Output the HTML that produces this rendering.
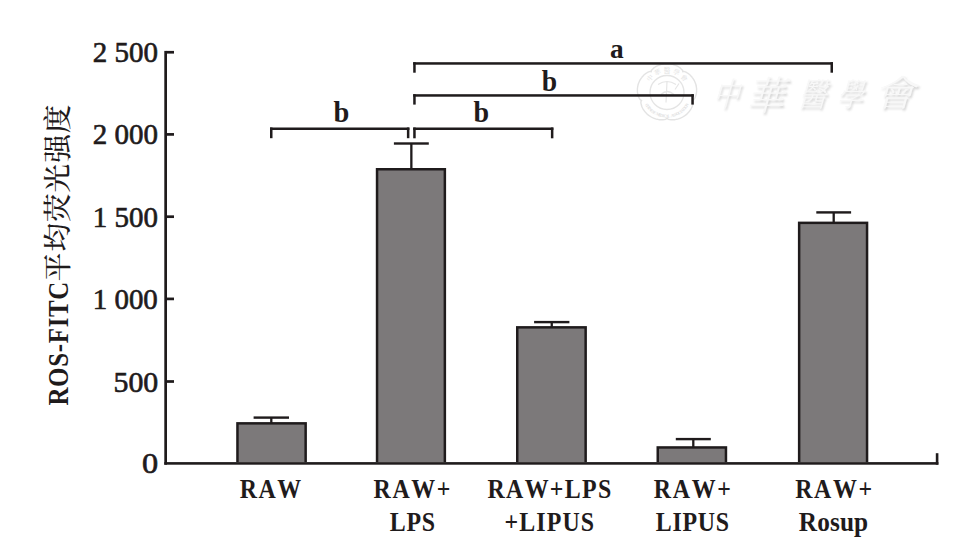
<!DOCTYPE html>
<html><head><meta charset="utf-8"><style>
html,body{margin:0;padding:0;background:#fff;}
svg{display:block;}
.wm text{fill:#f8f8f8;}
text{font-family:"Liberation Serif","Noto Serif CJK SC",serif;fill:#1f1b1c;font-kerning:none;}
</style></head><body>
<svg width="978" height="552" viewBox="0 0 978 552">
<rect width="978" height="552" fill="#fff"/>


<g>
 <path d="M667.0,63.7 L667.8,63.7 L668.6,63.8 L669.4,63.8 L670.1,63.9 L670.9,64.0 L671.7,64.2 L672.4,64.3 L673.2,64.5 L673.9,64.8 L674.7,65.0 L675.4,65.3 L676.1,65.6 L676.8,65.9 L677.5,66.2 L678.2,66.6 L678.8,67.0 L679.5,67.4 L680.1,67.9 L680.7,68.4 L681.2,68.9 L681.7,69.4 L682.2,70.0 L682.6,70.6 L682.8,71.7 L683.8,71.5 L684.6,71.6 L685.3,71.9 L686.0,72.2 L686.7,72.6 L687.4,73.0 L688.0,73.4 L688.6,73.8 L689.2,74.3 L689.8,74.8 L690.3,75.3 L690.9,75.9 L691.4,76.4 L691.9,77.0 L692.3,77.6 L692.8,78.2 L693.2,78.8 L693.6,79.5 L694.0,80.1 L694.4,80.8 L694.7,81.5 L695.0,82.2 L695.3,82.9 L695.5,83.6 L695.8,84.3 L696.0,85.0 L696.1,85.8 L696.3,86.5 L696.4,87.3 L696.5,88.0 L696.6,88.8 L696.6,89.5 L696.6,90.3 L696.6,91.0 L696.6,91.8 L696.5,92.5 L696.4,93.2 L696.3,94.0 L696.1,94.7 L695.9,95.4 L695.7,96.1 L695.4,96.8 L695.1,97.5 L694.8,98.2 L694.4,98.8 L694.0,99.4 L693.5,100.0 L692.5,100.5 L693.0,101.4 L693.1,102.1 L693.1,102.9 L693.0,103.6 L692.8,104.3 L692.6,105.0 L692.4,105.8 L692.2,106.5 L691.9,107.1 L691.6,107.8 L691.2,108.5 L690.9,109.1 L690.5,109.8 L690.0,110.4 L689.6,111.0 L689.1,111.6 L688.6,112.2 L688.1,112.8 L687.6,113.3 L687.0,113.9 L686.5,114.4 L685.9,114.9 L685.3,115.3 L684.6,115.8 L684.0,116.2 L683.3,116.6 L682.7,117.0 L682.0,117.4 L681.3,117.7 L680.6,118.1 L679.8,118.3 L679.1,118.6 L678.4,118.9 L677.6,119.1 L676.9,119.3 L676.1,119.4 L675.3,119.6 L674.6,119.7 L673.8,119.7 L673.0,119.8 L672.3,119.8 L671.5,119.8 L670.7,119.7 L670.0,119.6 L669.2,119.5 L668.5,119.3 L667.7,119.0 L667.0,118.2 L666.3,119.0 L665.5,119.3 L664.8,119.5 L664.0,119.6 L663.3,119.7 L662.5,119.8 L661.7,119.8 L661.0,119.8 L660.2,119.7 L659.4,119.7 L658.7,119.6 L657.9,119.4 L657.1,119.3 L656.4,119.1 L655.6,118.9 L654.9,118.6 L654.2,118.3 L653.4,118.1 L652.7,117.7 L652.0,117.4 L651.3,117.0 L650.7,116.6 L650.0,116.2 L649.4,115.8 L648.7,115.3 L648.1,114.9 L647.5,114.4 L647.0,113.9 L646.4,113.3 L645.9,112.8 L645.4,112.2 L644.9,111.6 L644.4,111.0 L644.0,110.4 L643.5,109.8 L643.1,109.1 L642.8,108.5 L642.4,107.8 L642.1,107.1 L641.8,106.5 L641.6,105.8 L641.4,105.0 L641.2,104.3 L641.0,103.6 L640.9,102.9 L640.9,102.1 L641.0,101.4 L641.5,100.5 L640.5,100.0 L640.0,99.4 L639.6,98.8 L639.2,98.2 L638.9,97.5 L638.6,96.8 L638.3,96.1 L638.1,95.4 L637.9,94.7 L637.7,94.0 L637.6,93.2 L637.5,92.5 L637.4,91.8 L637.4,91.0 L637.4,90.3 L637.4,89.5 L637.4,88.8 L637.5,88.0 L637.6,87.3 L637.7,86.5 L637.9,85.8 L638.0,85.0 L638.2,84.3 L638.5,83.6 L638.7,82.9 L639.0,82.2 L639.3,81.5 L639.6,80.8 L640.0,80.1 L640.4,79.5 L640.8,78.8 L641.2,78.2 L641.7,77.6 L642.1,77.0 L642.6,76.4 L643.1,75.9 L643.7,75.3 L644.2,74.8 L644.8,74.3 L645.4,73.8 L646.0,73.4 L646.6,73.0 L647.3,72.6 L648.0,72.2 L648.7,71.9 L649.4,71.6 L650.2,71.5 L651.2,71.7 L651.4,70.6 L651.8,70.0 L652.3,69.4 L652.8,68.9 L653.3,68.4 L653.9,67.9 L654.5,67.4 L655.2,67.0 L655.8,66.6 L656.5,66.2 L657.2,65.9 L657.9,65.6 L658.6,65.3 L659.3,65.0 L660.1,64.8 L660.8,64.5 L661.6,64.3 L662.3,64.2 L663.1,64.0 L663.9,63.9 L664.6,63.8 L665.4,63.8 L666.2,63.7 L667.0,63.7Z" fill="none" style="stroke:#e3e3e3;stroke-width:1.4"/>
 <circle cx="667.0" cy="92.5" r="17" fill="none" style="stroke:#e4e4e4;stroke-width:1.3"/>
 <text transform="translate(649.8,78.0) rotate(-50)" text-anchor="middle" dy="2.5" font-size="6.5" font-family="'Noto Sans CJK TC', sans-serif" style="fill:#e0e0e0">中</text><text transform="translate(657.5,72.1) rotate(-25)" text-anchor="middle" dy="2.5" font-size="6.5" font-family="'Noto Sans CJK TC', sans-serif" style="fill:#e0e0e0">華</text><text transform="translate(667.0,70.0) rotate(0)" text-anchor="middle" dy="2.5" font-size="6.5" font-family="'Noto Sans CJK TC', sans-serif" style="fill:#e0e0e0">醫</text><text transform="translate(676.5,72.1) rotate(25)" text-anchor="middle" dy="2.5" font-size="6.5" font-family="'Noto Sans CJK TC', sans-serif" style="fill:#e0e0e0">學</text><text transform="translate(684.2,78.0) rotate(50)" text-anchor="middle" dy="2.5" font-size="6.5" font-family="'Noto Sans CJK TC', sans-serif" style="fill:#e0e0e0">會</text><text transform="translate(647.1,105.0) rotate(58.0)" text-anchor="middle" dy="1.5" font-size="4.3" font-weight="bold" font-family="'Liberation Sans', sans-serif" style="fill:#e2e2e2">C</text><text transform="translate(648.1,106.5) rotate(53.5)" text-anchor="middle" dy="1.5" font-size="4.3" font-weight="bold" font-family="'Liberation Sans', sans-serif" style="fill:#e2e2e2">H</text><text transform="translate(649.2,107.9) rotate(49.1)" text-anchor="middle" dy="1.5" font-size="4.3" font-weight="bold" font-family="'Liberation Sans', sans-serif" style="fill:#e2e2e2">I</text><text transform="translate(650.5,109.2) rotate(44.6)" text-anchor="middle" dy="1.5" font-size="4.3" font-weight="bold" font-family="'Liberation Sans', sans-serif" style="fill:#e2e2e2">N</text><text transform="translate(651.8,110.5) rotate(40.2)" text-anchor="middle" dy="1.5" font-size="4.3" font-weight="bold" font-family="'Liberation Sans', sans-serif" style="fill:#e2e2e2">E</text><text transform="translate(653.3,111.6) rotate(35.7)" text-anchor="middle" dy="1.5" font-size="4.3" font-weight="bold" font-family="'Liberation Sans', sans-serif" style="fill:#e2e2e2">S</text><text transform="translate(654.8,112.6) rotate(31.2)" text-anchor="middle" dy="1.5" font-size="4.3" font-weight="bold" font-family="'Liberation Sans', sans-serif" style="fill:#e2e2e2">E</text><text transform="translate(658.1,114.2) rotate(22.3)" text-anchor="middle" dy="1.5" font-size="4.3" font-weight="bold" font-family="'Liberation Sans', sans-serif" style="fill:#e2e2e2">M</text><text transform="translate(659.8,114.9) rotate(17.8)" text-anchor="middle" dy="1.5" font-size="4.3" font-weight="bold" font-family="'Liberation Sans', sans-serif" style="fill:#e2e2e2">E</text><text transform="translate(661.6,115.4) rotate(13.4)" text-anchor="middle" dy="1.5" font-size="4.3" font-weight="bold" font-family="'Liberation Sans', sans-serif" style="fill:#e2e2e2">D</text><text transform="translate(663.4,115.7) rotate(8.9)" text-anchor="middle" dy="1.5" font-size="4.3" font-weight="bold" font-family="'Liberation Sans', sans-serif" style="fill:#e2e2e2">I</text><text transform="translate(665.2,115.9) rotate(4.5)" text-anchor="middle" dy="1.5" font-size="4.3" font-weight="bold" font-family="'Liberation Sans', sans-serif" style="fill:#e2e2e2">C</text><text transform="translate(667.0,116.0) rotate(0.0)" text-anchor="middle" dy="1.5" font-size="4.3" font-weight="bold" font-family="'Liberation Sans', sans-serif" style="fill:#e2e2e2">A</text><text transform="translate(668.8,115.9) rotate(-4.5)" text-anchor="middle" dy="1.5" font-size="4.3" font-weight="bold" font-family="'Liberation Sans', sans-serif" style="fill:#e2e2e2">L</text><text transform="translate(672.4,115.4) rotate(-13.4)" text-anchor="middle" dy="1.5" font-size="4.3" font-weight="bold" font-family="'Liberation Sans', sans-serif" style="fill:#e2e2e2">A</text><text transform="translate(674.2,114.9) rotate(-17.8)" text-anchor="middle" dy="1.5" font-size="4.3" font-weight="bold" font-family="'Liberation Sans', sans-serif" style="fill:#e2e2e2">S</text><text transform="translate(675.9,114.2) rotate(-22.3)" text-anchor="middle" dy="1.5" font-size="4.3" font-weight="bold" font-family="'Liberation Sans', sans-serif" style="fill:#e2e2e2">S</text><text transform="translate(677.6,113.5) rotate(-26.8)" text-anchor="middle" dy="1.5" font-size="4.3" font-weight="bold" font-family="'Liberation Sans', sans-serif" style="fill:#e2e2e2">O</text><text transform="translate(679.2,112.6) rotate(-31.2)" text-anchor="middle" dy="1.5" font-size="4.3" font-weight="bold" font-family="'Liberation Sans', sans-serif" style="fill:#e2e2e2">C</text><text transform="translate(680.7,111.6) rotate(-35.7)" text-anchor="middle" dy="1.5" font-size="4.3" font-weight="bold" font-family="'Liberation Sans', sans-serif" style="fill:#e2e2e2">I</text><text transform="translate(682.2,110.5) rotate(-40.2)" text-anchor="middle" dy="1.5" font-size="4.3" font-weight="bold" font-family="'Liberation Sans', sans-serif" style="fill:#e2e2e2">A</text><text transform="translate(683.5,109.2) rotate(-44.6)" text-anchor="middle" dy="1.5" font-size="4.3" font-weight="bold" font-family="'Liberation Sans', sans-serif" style="fill:#e2e2e2">T</text><text transform="translate(684.8,107.9) rotate(-49.1)" text-anchor="middle" dy="1.5" font-size="4.3" font-weight="bold" font-family="'Liberation Sans', sans-serif" style="fill:#e2e2e2">I</text><text transform="translate(685.9,106.5) rotate(-53.5)" text-anchor="middle" dy="1.5" font-size="4.3" font-weight="bold" font-family="'Liberation Sans', sans-serif" style="fill:#e2e2e2">O</text><text transform="translate(686.9,105.0) rotate(-58.0)" text-anchor="middle" dy="1.5" font-size="4.3" font-weight="bold" font-family="'Liberation Sans', sans-serif" style="fill:#e2e2e2">N</text>
 <path d="M 658.0,84.5 Q 667.0,78.5 676.0,84.5 M 667.0,81.5 L 666.0,102.5 M 661.0,94.5 Q 667.0,88.5 674.0,94.5 M 675.0,89.5 L 679.0,83.5" fill="none" style="stroke:#e6e6e6;stroke-width:1.2"/>
 <filter id="emb" x="-20%" y="-20%" width="140%" height="140%"><feGaussianBlur in="SourceAlpha" stdDeviation="0.9"/><feOffset dx="1.2" dy="1.6" result="o"/><feFlood flood-color="#cfcfcf"/><feComposite in2="o" operator="in"/><feMerge><feMergeNode/><feMergeNode in="SourceGraphic"/></feMerge></filter>
 <g class="wm" font-family="'Noto Serif CJK TC', serif" font-weight="300" filter="url(#emb)"><text transform="translate(725.6,106.0) skewX(-16) scale(0.8,1)" text-anchor="middle" font-size="33">中</text><text transform="translate(765.0,110.0) skewX(-16) scale(0.95,1)" text-anchor="middle" font-size="40">華</text><text transform="translate(812.0,106.0) skewX(-16) scale(0.85,1)" text-anchor="middle" font-size="33">醫</text><text transform="translate(849.8,106.0) skewX(-16) scale(0.82,1)" text-anchor="middle" font-size="32">學</text><text transform="translate(894.5,106.0) skewX(-16) scale(1.15,1)" text-anchor="middle" font-size="36">會</text></g>
</g>
<rect x="164.30" y="50.90" width="2.70" height="413.80" fill="#1f1b1c"/>
<rect x="166.50" y="50.90" width="7.50" height="2.70" fill="#1f1b1c"/>
<rect x="166.50" y="133.05" width="7.50" height="2.70" fill="#1f1b1c"/>
<rect x="166.50" y="215.35" width="7.50" height="2.70" fill="#1f1b1c"/>
<rect x="166.50" y="297.55" width="7.50" height="2.70" fill="#1f1b1c"/>
<rect x="166.50" y="380.15" width="7.50" height="2.70" fill="#1f1b1c"/>
<rect x="164.30" y="462.10" width="774.10" height="2.60" fill="#1f1b1c"/>
<rect x="935.80" y="453.20" width="2.60" height="11.50" fill="#1f1b1c"/>
<rect x="236.20" y="422.10" width="70.70" height="40.00" fill="#1f1b1c"/>
<rect x="238.70" y="424.60" width="65.70" height="37.50" fill="rgb(124,121,122)"/>
<rect x="253.60" y="416.40" width="35.40" height="2.40" fill="#1f1b1c"/>
<rect x="270.15" y="417.40" width="2.30" height="5.70" fill="#1f1b1c"/>
<rect x="375.80" y="168.00" width="70.30" height="294.10" fill="#1f1b1c"/>
<rect x="378.30" y="170.50" width="65.30" height="291.60" fill="rgb(124,121,122)"/>
<rect x="393.90" y="142.30" width="34.90" height="2.40" fill="#1f1b1c"/>
<rect x="410.20" y="143.30" width="2.30" height="25.70" fill="#1f1b1c"/>
<rect x="516.00" y="326.10" width="70.90" height="136.00" fill="#1f1b1c"/>
<rect x="518.50" y="328.60" width="65.90" height="133.50" fill="rgb(124,121,122)"/>
<rect x="534.10" y="320.90" width="35.30" height="2.40" fill="#1f1b1c"/>
<rect x="550.60" y="321.90" width="2.30" height="5.20" fill="#1f1b1c"/>
<rect x="656.50" y="446.20" width="70.70" height="15.90" fill="#1f1b1c"/>
<rect x="659.00" y="448.70" width="65.70" height="13.40" fill="rgb(124,121,122)"/>
<rect x="675.80" y="437.90" width="35.00" height="2.40" fill="#1f1b1c"/>
<rect x="692.15" y="438.90" width="2.30" height="8.30" fill="#1f1b1c"/>
<rect x="797.90" y="221.60" width="70.40" height="240.50" fill="#1f1b1c"/>
<rect x="800.40" y="224.10" width="65.40" height="238.00" fill="rgb(124,121,122)"/>
<rect x="816.30" y="211.20" width="34.80" height="2.40" fill="#1f1b1c"/>
<rect x="832.55" y="212.20" width="2.30" height="10.40" fill="#1f1b1c"/>
<rect x="413.20" y="62.20" width="419.80" height="2.50" fill="#1f1b1c"/>
<rect x="413.20" y="62.20" width="2.50" height="10.50" fill="#1f1b1c"/>
<rect x="830.50" y="62.20" width="2.50" height="10.50" fill="#1f1b1c"/>
<rect x="413.20" y="94.20" width="280.60" height="2.50" fill="#1f1b1c"/>
<rect x="413.20" y="94.20" width="2.50" height="10.40" fill="#1f1b1c"/>
<rect x="691.30" y="94.20" width="2.50" height="10.40" fill="#1f1b1c"/>
<rect x="270.00" y="127.50" width="139.40" height="2.50" fill="#1f1b1c"/>
<rect x="270.00" y="127.50" width="2.50" height="10.70" fill="#1f1b1c"/>
<rect x="406.90" y="127.50" width="2.50" height="10.70" fill="#1f1b1c"/>
<rect x="413.20" y="127.50" width="140.20" height="2.50" fill="#1f1b1c"/>
<rect x="413.20" y="127.50" width="2.50" height="10.80" fill="#1f1b1c"/>
<rect x="550.90" y="127.50" width="2.50" height="10.80" fill="#1f1b1c"/>
<text transform="translate(609.92,57.90) scale(1.021,1)" font-size="26.8" font-weight="bold" letter-spacing="0.000">a</text>
<text transform="translate(333.53,121.90) scale(0.998,1)" font-size="28.5" font-weight="bold" letter-spacing="0.000">b</text>
<text transform="translate(473.44,121.70) scale(0.984,1)" font-size="28.5" font-weight="bold" letter-spacing="0.000">b</text>
<text transform="translate(541.84,90.70) scale(0.97,1)" font-size="28.5" font-weight="bold" letter-spacing="0.000">b</text>
<text transform="translate(239.69,497.90) scale(0.86,1)" font-size="27.8" font-weight="bold" letter-spacing="1.778">RAW</text>
<text transform="translate(373.49,497.90) scale(0.86,1)" font-size="27.8" font-weight="bold" letter-spacing="1.934">RAW+</text>
<text transform="translate(389.69,531.40) scale(0.86,1)" font-size="27.8" font-weight="bold" letter-spacing="0.909">LPS</text>
<text transform="translate(487.49,497.90) scale(0.86,1)" font-size="27.8" font-weight="bold" letter-spacing="1.532">RAW+LPS</text>
<text transform="translate(504.53,531.40) scale(0.86,1)" font-size="27.8" font-weight="bold" letter-spacing="1.287">+LIPUS</text>
<text transform="translate(653.69,497.90) scale(0.86,1)" font-size="27.8" font-weight="bold" letter-spacing="2.012">RAW+</text>
<text transform="translate(655.79,531.40) scale(0.86,1)" font-size="27.8" font-weight="bold" letter-spacing="0.843">LIPUS</text>
<text transform="translate(795.19,497.90) scale(0.86,1)" font-size="27.8" font-weight="bold" letter-spacing="1.896">RAW+</text>
<text transform="translate(798.87,531.40) scale(0.91,1)" font-size="27.8" font-weight="bold" letter-spacing="0.125">Rosup</text>
<text x="92.73" y="62.25" font-size="29" font-weight="normal" textLength="65.18" lengthAdjust="spacingAndGlyphs" style="stroke:#1f1b1c;stroke-width:0.65px">2&#160;500</text>
<text x="92.73" y="144.40" font-size="29" font-weight="normal" textLength="65.18" lengthAdjust="spacingAndGlyphs" style="stroke:#1f1b1c;stroke-width:0.65px">2&#160;000</text>
<text x="92.75" y="226.70" font-size="29" font-weight="normal" textLength="65.15" lengthAdjust="spacingAndGlyphs" style="stroke:#1f1b1c;stroke-width:0.65px">1&#160;500</text>
<text x="92.76" y="308.90" font-size="29" font-weight="normal" textLength="65.04" lengthAdjust="spacingAndGlyphs" style="stroke:#1f1b1c;stroke-width:0.65px">1&#160;000</text>
<text x="113.47" y="391.50" font-size="29" font-weight="normal" textLength="44.76" lengthAdjust="spacingAndGlyphs" style="stroke:#1f1b1c;stroke-width:0.65px">500</text>
<text x="142.07" y="473.40" font-size="29" font-weight="normal" textLength="16.16" lengthAdjust="spacingAndGlyphs" style="stroke:#1f1b1c;stroke-width:0.65px">0</text>
<text transform="translate(67.60,405.62) rotate(-90) scale(0.86,1)" font-size="29" font-weight="bold" letter-spacing="0.807">ROS-FITC</text>
<text transform="translate(68.34,281.20) rotate(-90)" font-size="28.6" font-weight="500" letter-spacing="1.0" font-family="'Noto Serif CJK SC', serif">平均荧光强度</text>
</svg>
</body></html>
